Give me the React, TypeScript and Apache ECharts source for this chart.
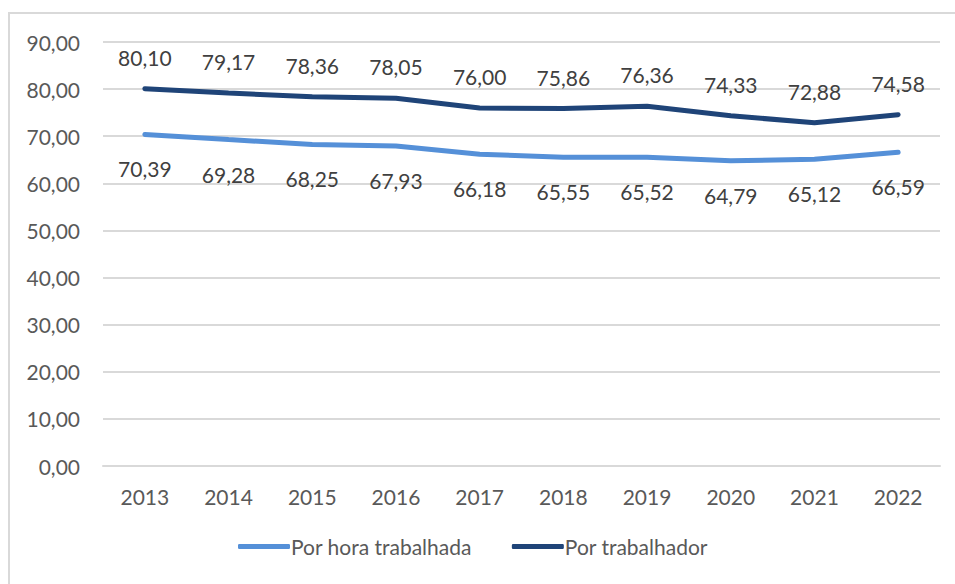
import React, { useEffect, useRef } from "react";
import * as echarts from "echarts";

const years = ["2013", "2014", "2015", "2016", "2017", "2018", "2019", "2020", "2021", "2022"];
const porHora = [70.39, 69.28, 68.25, 67.93, 66.18, 65.55, 65.52, 64.79, 65.12, 66.59];
const porTrabalhador = [80.1, 79.17, 78.36, 78.05, 76.0, 75.86, 76.36, 74.33, 72.88, 74.58];

const FONT = "Lato";
const fmt = (v: number) => v.toFixed(2).replace(".", ",");

export default function App() {
  const ref = useRef<HTMLDivElement>(null);
  useEffect(() => {
    if (!ref.current) return;
    const chart = echarts.init(ref.current, null, { renderer: "svg" });
    chart.setOption({
      animation: false,
      backgroundColor: "#ffffff",
      textStyle: { fontFamily: FONT },
      graphic: [
        {
          type: "rect",
          shape: { x: 9, y: 13, width: 1000, height: 700 },
          style: { fill: "none", stroke: "#d9d9d9", lineWidth: 2 },
          silent: true,
        },
      ],
      grid: { left: 103, right: 15, top: 42, bottom: 118 },
      legend: {
        bottom: 22,
        left: 233,
        itemWidth: 52,
        itemHeight: 5,
        itemGap: 40,
        icon: "roundRect",
        textStyle: { fontFamily: FONT, fontSize: 21, color: "#595959", padding: [0, 0, 0, -4] },
        data: ["Por hora trabalhada", "Por trabalhador"],
      },
      xAxis: {
        type: "category",
        data: years,
        boundaryGap: true,
        axisLine: { show: true, lineStyle: { color: "#d9d9d9", width: 2 } },
        axisTick: { show: false },
        axisLabel: { fontFamily: FONT, fontSize: 21, color: "#595959", margin: 20 },
      },
      yAxis: {
        type: "value",
        min: 0,
        max: 90,
        interval: 10,
        axisLine: { show: false },
        axisTick: { show: false },
        splitLine: { lineStyle: { color: "#d9d9d9", width: 2 } },
        axisLabel: { fontFamily: FONT, fontSize: 21, color: "#595959", margin: 23, formatter: (v: number) => fmt(v) },
      },
      series: [
        {
          name: "Por hora trabalhada",
          type: "line",
          data: porHora,
          symbol: "circle",
          symbolSize: 0,
          showSymbol: true,
          lineStyle: { width: 5, color: "#5590d8", cap: "round" },
          itemStyle: { color: "#5590d8" },
          label: {
            show: true,
            position: "bottom",
            distance: 24,
            fontFamily: FONT,
            fontSize: 21,
            color: "#404040",
            formatter: (p: any) => fmt(p.value),
          },
        },
        {
          name: "Por trabalhador",
          type: "line",
          data: porTrabalhador,
          symbol: "circle",
          symbolSize: 0,
          showSymbol: true,
          lineStyle: { width: 5, color: "#1f4478", cap: "round" },
          itemStyle: { color: "#1f4478" },
          label: {
            show: true,
            position: "top",
            distance: 21,
            fontFamily: FONT,
            fontSize: 21,
            color: "#404040",
            formatter: (p: any) => fmt(p.value),
          },
        },
      ],
    });
    return () => chart.dispose();
  }, []);
  return <div ref={ref} style={{ position: "fixed", left: 0, top: 0, width: 955, height: 584 }} />;
}
